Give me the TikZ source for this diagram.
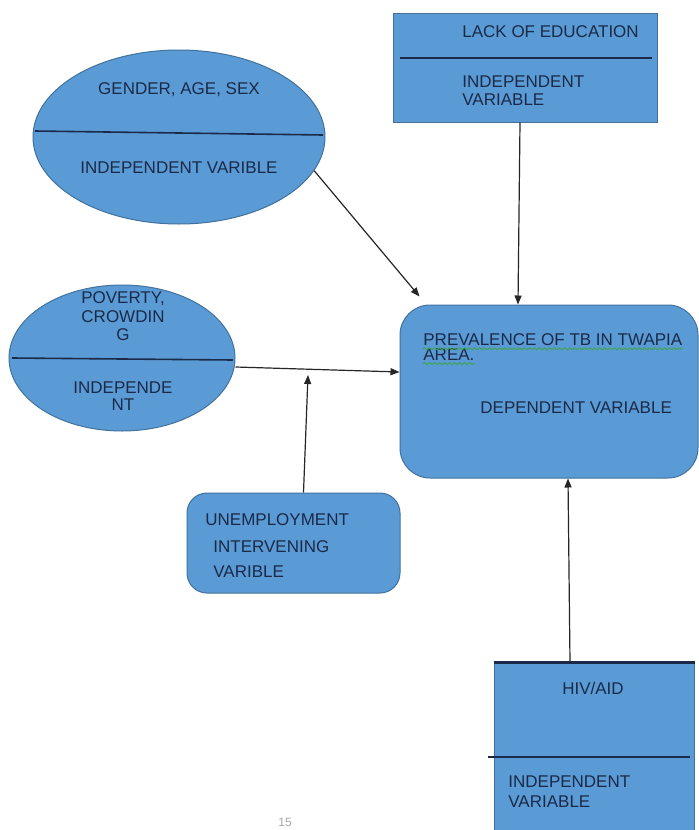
\documentclass[tikz,border=0pt]{standalone}
\usepackage{fontspec}
\setmainfont{Liberation Sans}
\usetikzlibrary{shapes.geometric,arrows.meta,decorations.pathmorphing}
\definecolor{boxfill}{HTML}{5B9BD5}
\definecolor{boxedge}{HTML}{41719C}
\definecolor{navy}{HTML}{1A2A48}
\definecolor{squig}{HTML}{3FA34D}
\tikzset{
  shp/.style={draw=boxedge, line width=0.5pt, fill=boxfill, inner sep=0pt},
  ell/.style={shp, ellipse},
  rbox/.style={shp, rectangle},
  rrbox/.style={shp, rectangle, rounded corners=#1},
  lbl/.style={text=navy, inner sep=0pt, font=\fontsize{8.5}{10}\selectfont},
  divider/.style={draw=navy, line width=0.8pt},
  arr/.style={draw=black!85, line width=0.6pt, -{Triangle[length=4.5pt,width=3.5pt]}}
}
\begin{document}
\begin{tikzpicture}[x=0.5pt,y=-0.5pt]
\path[use as bounding box] (0,0) rectangle (699,830);
\clip (0,0) rectangle (699,830);
\fill[white] (0,0) rectangle (699,830);

% shapes
\node[ell, minimum width=146pt, minimum height=87pt] (gender) at (179,137) {};
\node[rbox, minimum width=132pt, minimum height=54.5pt] (lack) at (525,67.5) {};
\node[ell, minimum width=113pt, minimum height=73pt] (poverty) at (122,358) {};
\node[rrbox=15pt, minimum width=149pt, minimum height=86.5pt] (prev) at (549,391.5) {};
\node[rrbox=10pt, minimum width=106.5pt, minimum height=50pt] (unemp) at (293.5,543) {};
\node[rbox, minimum width=100pt, minimum height=88.5pt] (hiv) at (594,751.5) {};

% dividers
\draw[divider] (35,131) -- (323,135);
\draw[divider] (400,58) -- (652,58);
\draw[divider] (12,358) -- (233,360);
\draw[divider] (488,757) -- (690,757);
\draw[draw=navy, line width=1.2pt] (hiv.north west) -- (hiv.north east);

% texts
\node[lbl] (t1) at (179,90) {GENDER, AGE, SEX};
\node[lbl] (t2) at (179,168) {INDEPENDENT VARIBLE};
\node[lbl, anchor=west] (t3) at (462,32) {LACK OF EDUCATION};
\node[lbl, anchor=west] (t4) at (462,82) {INDEPENDENT};
\node[lbl, anchor=west] (t5) at (462,100) {VARIABLE};
\node[lbl] (t6) at (123,299) {POVERTY,};
\node[lbl] (t7) at (123,317) {CROWDIN};
\node[lbl] (t8) at (123,335) {G};
\node[lbl] (t9) at (123,388) {INDEPENDE};
\node[lbl] (t10) at (123,405) {NT};
\node[lbl, anchor=west] (t11) at (423,340) {PREVALENCE OF TB IN TWAPIA};
\node[lbl, anchor=west] (t12) at (423,355) {AREA.};
\node[lbl, anchor=west] (t13) at (480,408) {DEPENDENT VARIABLE};
\node[lbl, anchor=west] (t14) at (205,520) {UNEMPLOYMENT};
\node[lbl, anchor=west] (t15) at (213,547) {INTERVENING};
\node[lbl, anchor=west] (t16) at (213,572) {VARIBLE};
\node[lbl] (t17) at (593,688) {HIV/AID};
\node[lbl, anchor=west] (t18) at (508,782) {INDEPENDENT};
\node[lbl, anchor=west] (t19) at (508,802) {VARIABLE};
\node[text=black!35, inner sep=0pt, font=\fontsize{6}{7}\selectfont] (pg) at (285,822) {15};

% spell-check squiggles
\draw[squig, line width=0.45pt, decorate, decoration={snake, amplitude=0.5pt, segment length=2.5pt}] ([yshift=-1.2pt]t11.south west) -- ([yshift=-1.2pt]t11.south east);
\draw[squig, line width=0.45pt, decorate, decoration={snake, amplitude=0.5pt, segment length=2.5pt}] ([yshift=-1.2pt]t12.south west) -- ([yshift=-1.2pt]t12.south east);

% connectors
\coordinate (j) at (308,375);
\draw[arr] (gender.-14.6) -- ([shift={(20,-8)}]prev.north west);
\draw[arr] ([xshift=-2.5pt]lack.south) -- ([xshift=-15.5pt]prev.north);
\draw[arr] ([yshift=-4.5pt]poverty.east) -- ([yshift=9.75pt]prev.west);
\draw[arr] ([xshift=5pt]unemp.north) -- (j);
\draw[arr] ([xshift=-12pt]hiv.north) -- ([xshift=9.5pt]prev.south);
\end{tikzpicture}
\end{document}
